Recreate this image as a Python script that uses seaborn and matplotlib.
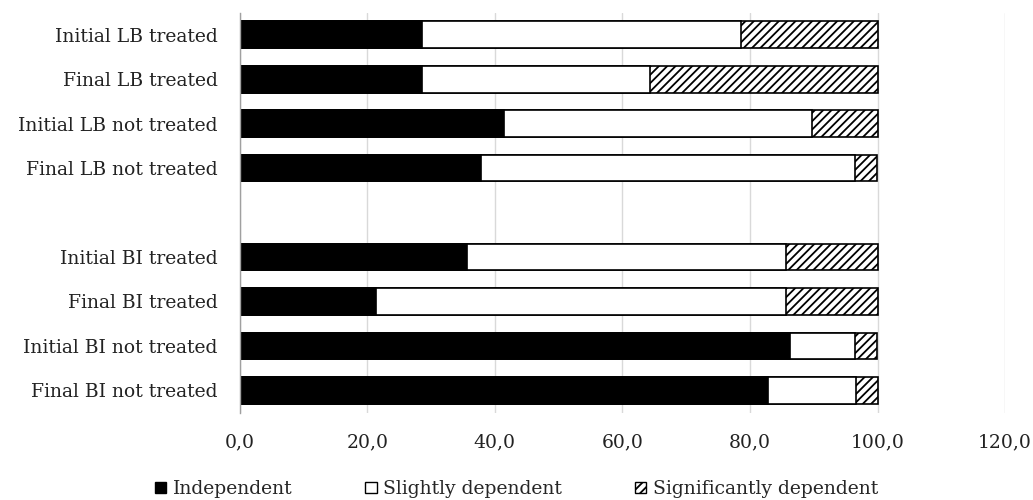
import matplotlib
matplotlib.use("Agg")
import matplotlib.pyplot as plt
from matplotlib.patches import Patch
import pandas as pd
import seaborn as sns

# Percentages per group
groups = ["Initial LB treated", "Final LB treated", "Initial LB not treated",
          "Final LB not treated", "Initial BI treated", "Final BI treated",
          "Initial BI not treated", "Final BI not treated"]
independent = [28.6, 28.6, 41.4, 37.9, 35.7, 21.4, 86.2, 82.8]
slightly = [50.0, 35.7, 48.3, 58.6, 50.0, 64.3, 10.3, 13.8]
significantly = [21.4, 35.7, 10.3, 3.4, 14.3, 14.3, 3.4, 3.4]
xticks = [0, 20, 40, 60, 80, 100, 120]
xtick_labels = ["0,0", "20,0", "40,0", "60,0", "80,0", "100,0", "120,0"]

df = pd.DataFrame({"group": groups, "ind": independent,
                   "sli": slightly, "sig": significantly})
df["ind_sli"] = df["ind"] + df["sli"]
df["total"] = df["ind_sli"] + df["sig"]

# blank slot between the LB and BI groups
order = groups[:4] + [" "] + groups[4:]

sns.set_style("white")
plt.rcParams["font.family"] = ["DejaVu Serif"]
plt.rcParams["hatch.linewidth"] = 1.3

fig, ax = plt.subplots(figsize=(10.33, 5.0), dpi=100)

# stack by overdrawing the cumulative totals
sns.barplot(data=df, y="group", x="total", order=order, orient="h",
            color="white", edgecolor="black", linewidth=1.2, hatch="////",
            width=0.6, ax=ax)
sns.barplot(data=df, y="group", x="ind_sli", order=order, orient="h",
            color="white", edgecolor="black", linewidth=1.2, width=0.6, ax=ax)
sns.barplot(data=df, y="group", x="ind", order=order, orient="h",
            color="black", edgecolor="black", linewidth=1.2, width=0.6, ax=ax)

ax.set_xlim(0, 120)
ax.set_ylim(8.5, -0.5)
ax.set_xticks(xticks)
ax.set_xticklabels(xtick_labels)
ax.set_xlabel("")
ax.set_ylabel("")
ax.tick_params(axis="both", labelsize=13.5, length=0, colors="#222222")
ax.tick_params(axis="x", pad=15)
ax.tick_params(axis="y", pad=16)
ax.xaxis.grid(True, color="#d9d9d9", linewidth=1)
ax.set_axisbelow(True)
for side in ["top", "right", "bottom"]:
    ax.spines[side].set_visible(False)
ax.spines["left"].set_color("#a0a0a0")
ax.spines["left"].set_linewidth(1)

handles = [Patch(facecolor="black", edgecolor="black", label="Independent"),
           Patch(facecolor="white", edgecolor="black", label="Slightly dependent"),
           Patch(facecolor="white", edgecolor="black", hatch="////",
                 label="Significantly dependent")]
fig.legend(handles=handles, loc="lower center", ncol=3, frameon=False,
           fontsize=13.5, handlelength=0.6, handleheight=0.6, handletextpad=0.35,
           columnspacing=3.9, bbox_to_anchor=(0.5, -0.03))

fig.subplots_adjust(left=0.232, right=0.973, top=0.975, bottom=0.175)
fig.savefig("out.png", dpi=100)
